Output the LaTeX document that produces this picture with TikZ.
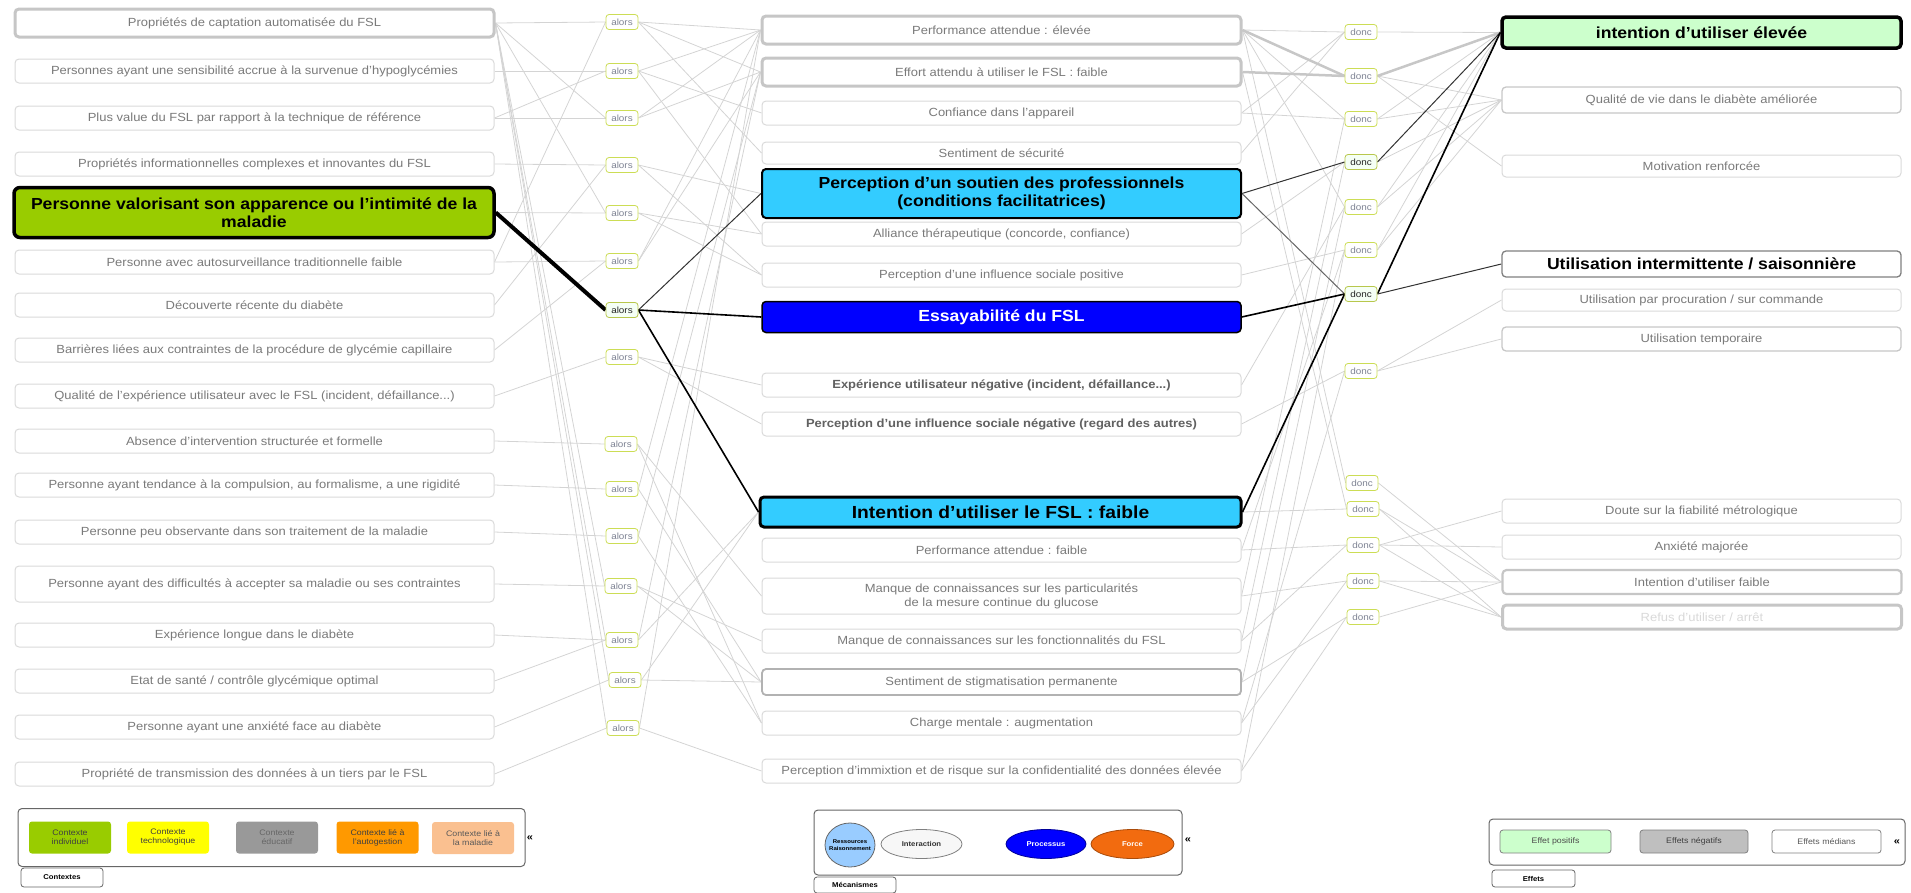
\documentclass[tikz,border=0pt]{standalone}
\usepackage{fontspec}
\setmainfont[FakeStretch=1.1]{Liberation Sans}
\usetikzlibrary{shapes.geometric}
\pgfdeclarelayer{bg}
\pgfsetlayers{bg,main}
\definecolor{txtg}{HTML}{7A7A7A}
\definecolor{bordg}{HTML}{DADADA}
\definecolor{thickg}{HTML}{C6C6C6}
\definecolor{limeg}{HTML}{99CC00}
\definecolor{cyanb}{HTML}{33CCFF}
\definecolor{blueb}{HTML}{0000FF}
\definecolor{paleg}{HTML}{CCFFCC}
\definecolor{labb}{HTML}{CCDD55}
\definecolor{yel}{HTML}{FFFF00}
\definecolor{orng}{HTML}{FF9900}
\definecolor{peach}{HTML}{FAC090}
\definecolor{forceo}{HTML}{F26B0F}
\definecolor{resb}{HTML}{99CCFF}
\definecolor{lbltxt}{HTML}{7F8494}
\tikzset{
  box/.style={draw=bordg, line width=1pt, rounded corners=4pt, fill=white, text=txtg,
    font=\fontsize{11.8}{14}\selectfont, align=center, inner sep=2pt},
  lbox/.style={box, minimum width=479pt, minimum height=24pt},
  rbox/.style={box, minimum width=399pt, minimum height=24pt},
  heavy/.style={draw=thickg, line width=3pt},
  strongbox/.style={draw=black, text=black, font=\fontsize{16}{18}\selectfont\bfseries},
  lbl/.style={draw=labb, line width=0.8pt, rounded corners=3pt, fill=white, text=lbltxt,
    font=\fontsize{9}{10}\selectfont, minimum width=32pt, minimum height=15pt, inner sep=1pt},
  lbldark/.style={lbl, text=black!85, fill=green!4, draw=labb!90!black},
  ln/.style={draw=black!17, line width=0.8pt},
  lnthick/.style={draw=black!22, line width=2.5pt},
  dk/.style={draw=black!80, line width=1pt},
  dkthick/.style={draw=black, line width=1.6pt},
  legitem/.style={rounded corners=3pt, font=\fontsize{8}{9}\selectfont, align=center,
    minimum width=82pt, minimum height=32pt, inner sep=1pt},
  tab/.style={draw=black!60, line width=0.8pt, rounded corners=3pt, fill=white,
    font=\fontsize{7}{8}\selectfont\bfseries, inner sep=1pt},
  ell/.style={ellipse, line width=0.8pt, font=\fontsize{7}{8}\selectfont\bfseries, align=center, inner sep=0pt}
}
\begin{document}
\begin{tikzpicture}[x=1pt,y=-1pt]
\useasboundingbox (0,0) rectangle (1911,892);
% ---------- left column
\node[lbox, heavy, minimum height=28pt] (L1) at (254.5,23) {Propriétés de captation automatisée du FSL};
\node[lbox] (L2) at (254.5,71) {Personnes ayant une sensibilité accrue à la survenue d'hypoglycémies};
\node[lbox] (L3) at (254.5,118) {Plus value du FSL par rapport à la technique de référence};
\node[lbox] (L4) at (254.5,164) {Propriétés informationnelles complexes et innovantes du FSL};
\node[lbox, strongbox, fill=limeg, line width=3.5pt, minimum width=480pt, minimum height=50pt, rounded corners=6pt] (L5) at (254,212.5) {Personne valorisant son apparence ou l'intimité de la\\maladie};
\node[lbox] (L6) at (254.5,262) {Personne avec autosurveillance traditionnelle faible};
\node[lbox] (L7) at (254.5,305) {Découverte récente du diabète};
\node[lbox] (L8) at (254.5,350) {Barrières liées aux contraintes de la procédure de glycémie capillaire};
\node[lbox] (L9) at (254.5,396) {Qualité de l'expérience utilisateur avec le FSL (incident, défaillance...)};
\node[lbox] (L10) at (254.5,441) {Absence d'intervention structurée et formelle};
\node[lbox] (L11) at (254.5,485) {Personne ayant tendance à la compulsion, au formalisme, a une rigidité};
\node[lbox] (L12) at (254.5,532) {Personne peu observante dans son traitement de la maladie};
\node[lbox, minimum height=36pt] (L13) at (254.5,584) {Personne ayant des difficultés à accepter sa maladie ou ses contraintes};
\node[lbox] (L14) at (254.5,635) {Expérience longue dans le diabète};
\node[lbox] (L15) at (254.5,681) {Etat de santé / contrôle glycémique optimal};
\node[lbox] (L16) at (254.5,727) {Personne ayant une anxiété face au diabète};
\node[lbox] (L17) at (254.5,774) {Propriété de transmission des données à un tiers par le FSL};
% ---------- alors
\node[lbl] (A1) at (622,22) {alors};
\node[lbl] (A2) at (622,71) {alors};
\node[lbl] (A3) at (622,118) {alors};
\node[lbl] (A4) at (622,165) {alors};
\node[lbl] (A5) at (622,213) {alors};
\node[lbl] (A6) at (622,261) {alors};
\node[lbldark] (A7) at (622,310) {alors};
\node[lbl] (A8) at (622,357) {alors};
\node[lbl] (A9) at (621,444) {alors};
\node[lbl] (A10) at (622,489) {alors};
\node[lbl] (A11) at (622,536) {alors};
\node[lbl] (A12) at (621,586) {alors};
\node[lbl] (A13) at (622,640) {alors};
\node[lbl] (A14) at (625,680) {alors};
\node[lbl] (A15) at (623,728) {alors};
% ---------- middle column
\node[lbox, heavy, minimum height=28pt] (M1) at (1001.5,30) {Performance attendue : élevée};
\node[lbox, heavy, minimum height=28pt] (M2) at (1001.5,72) {Effort attendu à utiliser le FSL : faible};
\node[lbox] (M3) at (1001.5,113) {Confiance dans l'appareil};
\node[lbox, minimum height=22pt] (M4) at (1001.5,153) {Sentiment de sécurité};
\node[lbox, strongbox, fill=cyanb, line width=2pt, minimum height=49pt] (M5) at (1001.5,193.5) {Perception d'un soutien des professionnels\\(conditions facilitatrices)};
\node[lbox] (M6) at (1001.5,234) {Alliance thérapeutique (concorde, confiance)};
\node[lbox] (M7) at (1001.5,275) {Perception d'une influence sociale positive};
\node[lbox, strongbox, fill=blueb, text=white, line width=1.5pt, minimum height=31pt] (M8) at (1001.5,317) {Essayabilité du FSL};
\node[lbox, text=black!62, font=\fontsize{11.8}{14}\selectfont\bfseries] (M9) at (1001.5,385) {Expérience utilisateur négative (incident, défaillance...)};
\node[lbox, text=black!62, font=\fontsize{11.8}{14}\selectfont\bfseries] (M10) at (1001.5,424) {Perception d'une influence sociale négative (regard des autres)};
\node[lbox, strongbox, fill=cyanb, line width=3pt, minimum height=30pt, minimum width=481pt, font=\fontsize{17.5}{19}\selectfont\bfseries] (M11) at (1000.5,512) {Intention d'utiliser le FSL : faible};
\node[lbox] (M12) at (1001.5,550) {Performance attendue : faible};
\node[lbox, minimum height=36pt] (M13) at (1001.5,596) {Manque de connaissances sur les particularités\\de la mesure continue du glucose};
\node[lbox] (M14) at (1001.5,641) {Manque de connaissances sur les fonctionnalités du FSL};
\node[lbox, draw=black!30, line width=1.8pt, minimum height=26pt] (M15) at (1001.5,682) {Sentiment de stigmatisation permanente};
\node[lbox] (M16) at (1001.5,723) {Charge mentale : augmentation};
\node[lbox] (M17) at (1001.5,771) {Perception d'immixtion et de risque sur la confidentialité des données élevée};
% ---------- donc
\node[lbl] (D1) at (1361,32) {donc};
\node[lbl] (D2) at (1361,76) {donc};
\node[lbl] (D3) at (1361,119) {donc};
\node[lbldark] (D4) at (1361,162) {donc};
\node[lbl] (D5) at (1361,207) {donc};
\node[lbl] (D6) at (1361,250) {donc};
\node[lbldark] (D7) at (1361,294) {donc};
\node[lbl] (D8) at (1361,371) {donc};
\node[lbl] (D9) at (1362,483) {donc};
\node[lbl] (D10) at (1363,509) {donc};
\node[lbl] (D11) at (1363,545) {donc};
\node[lbl] (D12) at (1363,581) {donc};
\node[lbl] (D13) at (1363,617) {donc};
% ---------- right column
\node[rbox, strongbox, fill=paleg, line width=3.5pt, minimum height=31pt] (R1) at (1701.5,32.5) {intention d'utiliser élevée};
\node[rbox, draw=black!22, line width=1.3pt, minimum height=26pt] (R2) at (1701.5,100) {Qualité de vie dans le diabète améliorée};
\node[rbox, minimum height=22pt] (R3) at (1701.5,166) {Motivation renforcée};
\node[rbox, draw=black!50, line width=1.3pt, text=black, font=\fontsize{16}{18}\selectfont\bfseries, minimum height=26pt] (R4) at (1701.5,264) {Utilisation intermittente / saisonnière};
\node[rbox, minimum height=22pt] (R5) at (1701.5,300) {Utilisation par procuration / sur commande};
\node[rbox, draw=black!22, line width=1.3pt] (R6) at (1701.5,339) {Utilisation temporaire};
\node[rbox] (R7) at (1701.5,511) {Doute sur la fiabilité métrologique};
\node[rbox] (R8) at (1701.5,547) {Anxiété majorée};
\node[rbox, heavy, line width=2.2pt] (R9) at (1702,582) {Intention d'utiliser faible};
\node[rbox, heavy, text=black!15] (R10) at (1702,617) {Refus d'utiliser / arrêt};
% ---------- connectors
\begin{pgfonlayer}{bg}
\foreach \a/\b in {L1/A1,L1/A3,L1/A5,L1/A12,L1/A13,L1/A14,L1/A15,L2/A2,L3/A2,L3/A3,L4/A4,L6/A6,L6/A1,
  L7/A4,L8/A6,L9/A8,L10/A9,L11/A10,L12/A11,L13/A12,L14/A13,L15/A13,L16/A14,L17/A15,L5/A5}
  \draw[ln] (\a.east) -- (\b.west);
\foreach \a/\b in {A1/M1,A1/M2,A1/M4,A2/M1,A2/M3,A2/M6,A3/M1,A3/M2,A4/M5,A4/M7,A5/M7,A5/M6,A6/M1,A6/M2,
  A8/M9,A8/M10,A9/M13,A9/M16,A10/M15,A10/M1,A11/M16,A11/M2,A12/M15,A12/M14,A13/M11,A13/M2,A14/M15,A14/M11,
  A15/M17,A15/M1}
  \draw[ln] (\a.east) -- (\b.west);
\foreach \a/\b in {M1/D1,M1/D3,M1/D5,M1/D9,M2/D10,M3/D3,M3/D1,M4/D1,M6/D4,M7/D6,M9/D5,M10/D8,M11/D10,
  M12/D11,M12/D6,M13/D12,M13/D3,M14/D11,M14/D4,M15/D13,M15/D5,M16/D12,M16/D8,M17/D13,M17/D6}
  \draw[ln] (\a.east) -- (\b.west);
\foreach \a/\b in {D1/R1,D2/R2,D2/R3,D3/R1,D3/R2,D4/R2,D5/R1,D5/R2,D6/R1,D6/R2,D8/R5,D8/R6,
  D9/R9,D10/R9,D10/R10,D11/R7,D11/R8,D11/R10,D12/R9,D12/R10,D13/R9}
  \draw[ln] (\a.east) -- (\b.west);
\draw[lnthick] (M1.east) -- (D2.west);
\draw[lnthick] (M2.east) -- (D2.west);
\draw[lnthick] (D2.east) -- (R1.west);
\draw[line width=4pt, black] (L5.east) -- (A7.west);
\draw[dk] (A7.east) -- (M5.west);
\draw[dkthick] (A7.east) -- (M8.west);
\draw[dkthick] (A7.east) -- (M11.west);
\draw[dk] (M5.east) -- (D4.west);
\draw[dk, draw=black!60] (M5.east) -- (D7.west);
\draw[dkthick] (M8.east) -- (D7.west);
\draw[dkthick] (M11.east) -- (D7.west);
\draw[dk] (D4.east) -- (R1.west);
\draw[dkthick] (D7.east) -- (R1.west);
\draw[dk] (D7.east) -- (R4.west);
\end{pgfonlayer}
% ---------- legend: contextes
\node[draw=black!60, line width=1pt, rounded corners=4pt, minimum width=507pt, minimum height=58pt] (LG1) at (271.5,837.5) {};
\node[legitem, fill=limeg, text=black!75] (C1) at (70,837.5) {Contexte\\individuel};
\node[legitem, fill=yel, text=black!75] (C2) at (168,837.5) {Contexte\\technologique};
\node[legitem, fill=black!40, text=black!60] (C3) at (277,837.5) {Contexte\\éducatif};
\node[legitem, fill=orng, text=black!75] (C4) at (377.5,837.5) {Contexte lié à\\l'autogestion};
\node[legitem, fill=peach, text=black!65] (C5) at (473,838) {Contexte lié à\\la maladie};
\node[font=\fontsize{10}{11}\selectfont\bfseries, inner sep=0pt] (X1) at (530,838) {«};
\node[tab, minimum width=82pt, minimum height=19pt] (T1) at (62,877.5) {Contextes};
% ---------- legend: mecanismes
\node[draw=black!60, line width=1pt, rounded corners=4pt, minimum width=368pt, minimum height=65pt] (LG2) at (998,842.5) {};
\node[ell, fill=resb, draw=black!60, minimum width=50pt, minimum height=44pt, inner xsep=-7pt, font=\fontsize{5.5}{6.5}\selectfont\bfseries] (E1) at (850,845) {Ressources\\Raisonnement};
\node[ell, fill=black!3, draw=black!50, minimum width=81pt, minimum height=29pt, text=black!80] (E2) at (921.5,844) {Interaction};
\node[ell, fill=blueb, draw=blue!60!black, minimum width=80pt, minimum height=29pt, text=white] (E3) at (1046,844) {Processus};
\node[ell, fill=forceo, draw=forceo!70!black, minimum width=83pt, minimum height=29pt, text=white] (E4) at (1132.5,844) {Force};
\node[font=\fontsize{10}{11}\selectfont\bfseries, inner sep=0pt] (X2) at (1188,840) {«};
\node[tab, minimum width=82pt, minimum height=16pt] (T2) at (855,885) {Mécanismes};
% ---------- legend: effets
\node[draw=black!60, line width=1pt, rounded corners=4pt, minimum width=416pt, minimum height=46pt] (LG3) at (1697,842) {};
\node[legitem, draw=black!50, line width=0.8pt, fill=paleg, text=black!70, minimum width=111pt, minimum height=23pt] (F1) at (1555.5,841.5) {Effet positifs};
\node[legitem, draw=black!50, line width=0.8pt, fill=black!25, text=black!75, minimum width=108pt, minimum height=23pt] (F2) at (1694,841.5) {Effets négatifs};
\node[legitem, draw=black!50, line width=0.8pt, fill=white, text=black!65, minimum width=109pt, minimum height=23pt] (F3) at (1826.5,841.5) {Effets médians};
\node[font=\fontsize{10}{11}\selectfont\bfseries, inner sep=0pt] (X3) at (1897,842) {«};
\node[tab, minimum width=83pt, minimum height=17pt] (T3) at (1533.5,878.5) {Effets};
\end{tikzpicture}
\end{document}
